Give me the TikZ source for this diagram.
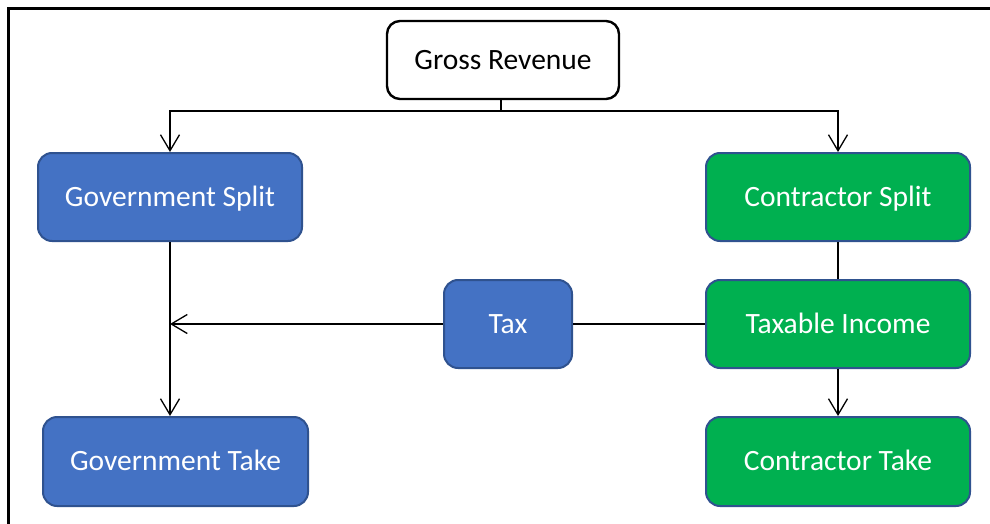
\documentclass[tikz,border=0pt]{standalone}
\usepackage{fontspec}
\setmainfont{Carlito}
\usetikzlibrary{arrows.meta}
\definecolor{boxblue}{HTML}{4472C4}
\definecolor{boxgreen}{HTML}{00B050}
\definecolor{edgeblue}{HTML}{2F528F}
\begin{document}
\begin{tikzpicture}[x=1pt,y=1pt,
  basebox/.style={rectangle,rounded corners=14pt,inner sep=0pt,line width=2pt,
    font=\fontsize{29.5}{34}\selectfont,text height=18.8pt,text depth=0pt},
  bluebox/.style={basebox,draw=edgeblue,fill=boxblue,text=white,minimum width=264pt,minimum height=88pt},
  greenbox/.style={basebox,draw=edgeblue,fill=boxgreen,text=white,minimum width=264pt,minimum height=88pt},
  topbox/.style={basebox,draw=black,fill=white,text=black,line width=2.4pt,rounded corners=13pt,minimum width=232pt,minimum height=78pt},
  conn/.style={draw=black,line width=1.3pt},
  arr/.style={conn,-{Straight Barb[length=16pt,width=19pt,line width=1.3pt]}}
]
\useasboundingbox (0,0) rectangle (990,-524);
\begin{scope}
\clip (0,0) rectangle (990,-524);
\draw[line width=3pt] (8,-9) rectangle (1010,-540);
\end{scope}

\node[topbox] (gr) at (503,-60) {Gross Revenue};
\node[bluebox] (gs) at (170,-197) {Government Split};
\node[greenbox] (cs) at (838,-197) {Contractor Split};
\node[bluebox,minimum width=128pt] (tax) at (508,-324) {Tax};
\node[greenbox] (ti) at (838,-324) {Taxable Income};
\node[bluebox,minimum width=265pt,minimum height=89pt] (gt) at (175.5,-461.5) {Government Take};
\node[greenbox,minimum height=89pt] (ct) at (838,-461.5) {Contractor Take};

\coordinate (j) at (501,-111);
\draw[conn] (gr.south -| j) -- (j);
\draw[arr] (j) -| (gs.north);
\draw[arr] (j) -| (cs.north);
\draw[arr] (gs.south) -- (gs.south |- gt.north);
\draw[arr] (tax.west) -- (tax.west -| gs.south);
\draw[conn] (tax.east) -- (ti.west);
\draw[conn] (cs.south) -- (ti.north);
\draw[arr] (ti.south) -- (ct.north);
\end{tikzpicture}
\end{document}
